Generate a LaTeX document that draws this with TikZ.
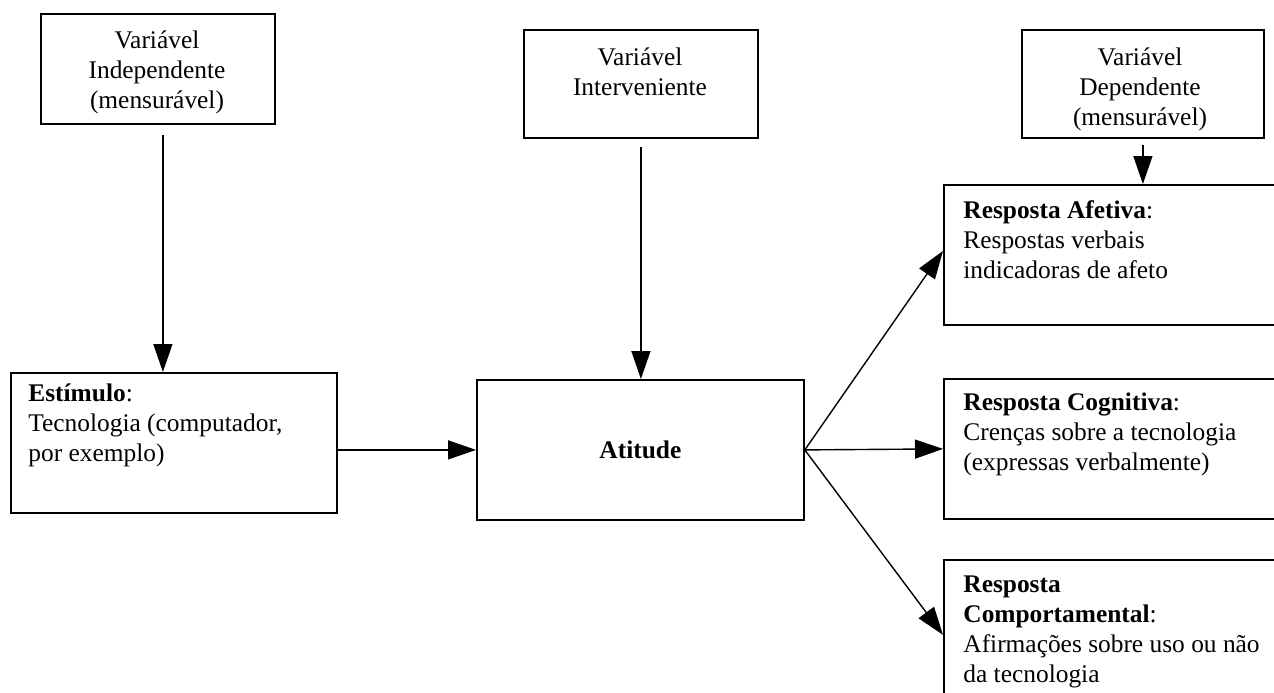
\documentclass[tikz,border=0pt]{standalone}
\usepackage{fontspec}
\setmainfont{Liberation Serif}
\usetikzlibrary{arrows.meta}

\begin{document}
\begin{tikzpicture}[x=0.5pt, y=-0.5pt,
  box/.style={draw, line width=0.9pt, inner sep=0pt, anchor=north west},
  txt/.style={inner sep=0pt, font=\fontsize{12.7}{15}\selectfont},
  arr/.style={line width=0.7pt, -{Triangle[length=14pt, width=9.5pt]}}
]

  % Fix the page size (the right column is cut off by the page edge)
  \useasboundingbox (0,0) rectangle (1274,692);
  \clip (0,0) rectangle (1274,692);

  % The three variable boxes at the top
  \node[box, minimum width=117pt, minimum height=55pt] (ind) at (40,13) {};
  \node[box, minimum width=117pt, minimum height=54pt] (int) at (523,29) {};
  \node[box, minimum width=121pt, minimum height=54pt] (dep) at (1021,29) {};

  % Stimulus and attitude
  \node[box, minimum width=163pt, minimum height=70pt] (est) at (10,372) {};
  \node[box, minimum width=163.5pt, minimum height=70pt] (att) at (476,379) {};

  % The three responses on the right
  \node[box, minimum width=180pt, minimum height=70pt] (aff) at (943,184) {};
  \node[box, minimum width=180pt, minimum height=70pt] (cog) at (943,378) {};
  \node[box, minimum width=180pt, minimum height=75pt] (beh) at (943,559) {};

  % Texts of the boxes (placed on the baseline of their last line)
  \node[txt, align=center, anchor=base] (indtxt) at (157,108) {Variável\\Independente\\(mensurável)};
  \node[txt, align=center, anchor=base] (inttxt) at (640,95) {Variável\\Interveniente};
  \node[txt, align=center, anchor=base] (deptxt) at (1140,125) {Variável\\Dependente\\(mensurável)};
  \node[txt, align=left, anchor=base west] (esttxt) at (28,461)
    {\textbf{Estímulo}:\\Tecnologia (computador,\\por exemplo)};
  \node[txt, font=\fontsize{12.7}{15}\selectfont\bfseries] (atttxt) at (att.center) {Atitude};
  \node[txt, align=left, anchor=base west] (afftxt) at (963,278)
    {\textbf{Resposta Afetiva}:\\Respostas verbais\\indicadoras de afeto};
  \node[txt, align=left, anchor=base west] (cogtxt) at (963,470)
    {\textbf{Resposta Cognitiva}:\\Crenças sobre a tecnologia\\(expressas verbalmente)};
  \node[txt, align=left, anchor=base west] (behtxt) at (963,682)
    {\textbf{Resposta}\\\textbf{Comportamental}:\\Afirmações sobre uso ou não\\da tecnologia};

  % Arrows from the variables
  \draw[arr, shorten <=5pt] ([xshift=2.5pt]ind.south) -- ([xshift=2.5pt]ind.south |- est.north);
  \draw[arr, shorten <=4pt] (int.south) -- (int.south |- att.north);
  \draw[arr, shorten <=3pt] (dep.south) -- (dep.south |- aff.north);

  % Stimulus to attitude
  \draw[arr] (att.west -| est.east) -- (att.west);

  % Attitude to the responses
  \draw[arr] (att.east) -- ([yshift=2pt]aff.west);
  \draw[arr] (att.east) -- (cog.west);
  \draw[arr] (att.east) -- (beh.west);

\end{tikzpicture}
\end{document}
